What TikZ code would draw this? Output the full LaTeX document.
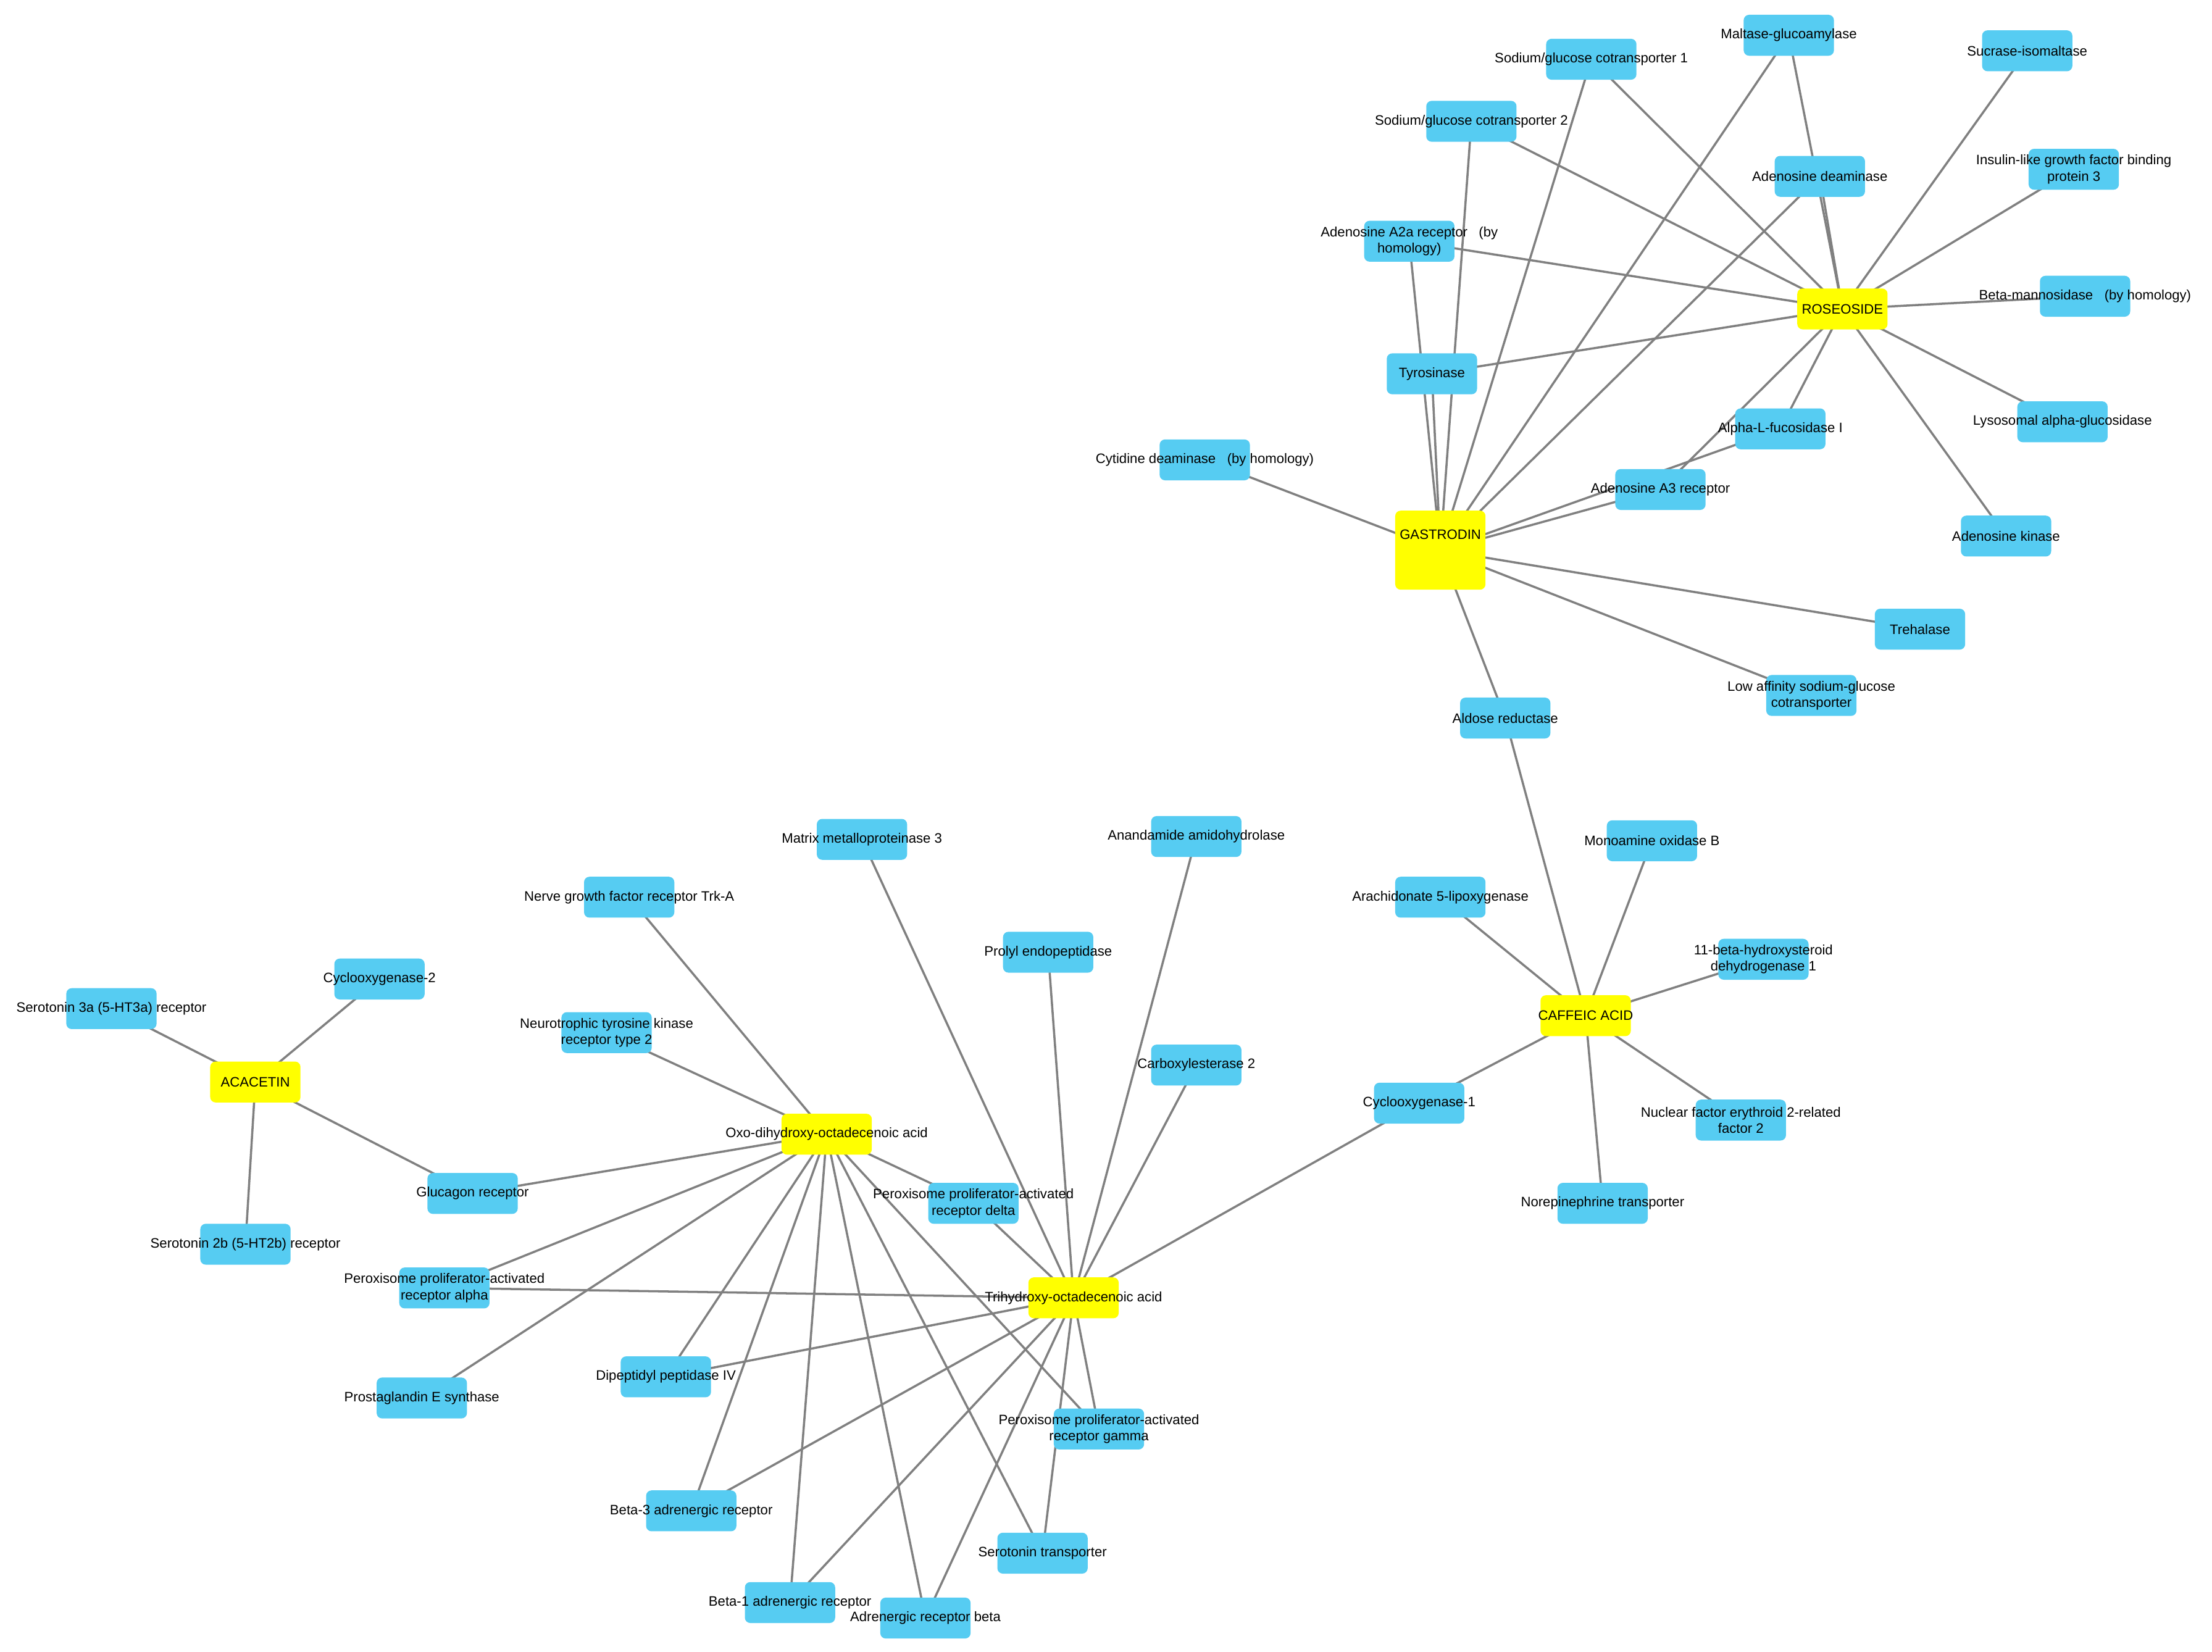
\documentclass[tikz,border=0pt]{standalone}
\usepackage{fontspec}
\setmainfont{Liberation Sans}
\pgfdeclarelayer{bg}
\pgfsetlayers{bg,main}
\definecolor{nblue}{RGB}{86,204,242}
\definecolor{nyel}{RGB}{255,255,0}
\definecolor{egray}{RGB}{128,128,128}
\tikzset{
  bbox/.style={draw=none,fill=nblue,rounded corners=2.5pt,minimum width=64*0.02285cm,minimum height=29*0.02285cm,inner sep=0pt},
  ybox/.style={bbox,fill=nyel},
  lbl/.style={font=\fontsize{6.3}{7.5}\selectfont,align=center,inner sep=0pt,text=black},
  edge/.style={draw=egray,line width=1pt}
}
\newcommand\bn[4]{\node[bbox,label={[lbl]center:#4}] (#1) at (#2,#3) {};}
\newcommand\yn[4]{\node[ybox,label={[lbl]center:#4}] (#1) at (#2,#3) {};}
\begin{document}
\begin{tikzpicture}[x=0.02285cm,y=-0.02285cm]
\path[use as bounding box] (0,0) rectangle (1568,1171);
% hubs
\node[ybox,minimum height=56*0.02285cm,label={[lbl,yshift=0.25cm]center:GASTRODIN}] (g) at (1021,390) {};
\yn{r}{1306}{219}{ROSEOSIDE}
\yn{ac}{181}{767}{ACACETIN}
\yn{o}{586}{804}{Oxo-dihydroxy-octadecenoic acid}
\yn{t}{761}{920}{Trihydroxy-octadecenoic acid}
\yn{c}{1124}{720}{CAFFEIC ACID}
% targets
\bn{sglt1}{1128}{42}{Sodium/glucose cotransporter 1}
\bn{mga}{1268}{25}{Maltase-glucoamylase}
\bn{si}{1437}{36}{Sucrase-isomaltase}
\bn{sglt2}{1043}{86}{Sodium/glucose cotransporter 2}
\bn{ada}{1290}{125}{Adenosine deaminase}
\bn{igfbp3}{1470}{120}{Insulin-like growth factor binding\\protein 3}
\bn{a2a}{999}{171}{Adenosine A2a receptor \ \ (by\\homology)}
\bn{bman}{1478}{210}{Beta-mannosidase \ \ (by homology)}
\bn{tyr}{1015}{265}{Tyrosinase}
\bn{alfuc}{1262}{304}{Alpha-L-fucosidase I}
\bn{lag}{1462}{299}{Lysosomal alpha-glucosidase}
\bn{cda}{854}{326}{Cytidine deaminase \ \ (by homology)}
\bn{a3}{1177}{347}{Adenosine A3 receptor}
\bn{adk}{1422}{380}{Adenosine kinase}
\bn{treh}{1361}{446}{Trehalase}
\bn{lasg}{1284}{493}{Low affinity sodium-glucose\\cotransporter}
\bn{ar}{1067}{509}{Aldose reductase}
\bn{mao}{1171}{596}{Monoamine oxidase B}
\bn{alox5}{1021}{636}{Arachidonate 5-lipoxygenase}
\bn{hsd}{1250}{680}{11-beta-hydroxysteroid\\dehydrogenase 1}
\bn{cox1}{1006}{782}{Cyclooxygenase-1}
\bn{nrf2}{1234}{794}{Nuclear factor erythroid 2-related\\factor 2}
\bn{net}{1136}{853}{Norepinephrine transporter}
\bn{mmp3}{611}{595}{Matrix metalloproteinase 3}
\bn{faah}{848}{593}{Anandamide amidohydrolase}
\bn{trka}{446}{636}{Nerve growth factor receptor Trk-A}
\bn{pep}{743}{675}{Prolyl endopeptidase}
\bn{cox2}{269}{694}{Cyclooxygenase-2}
\bn{htta}{79}{715}{Serotonin 3a (5-HT3a) receptor}
\bn{ntrk}{430}{732}{Neurotrophic tyrosine kinase\\receptor type 2}
\bn{ces}{848}{755}{Carboxylesterase 2}
\bn{gcgr}{335}{846}{Glucagon receptor}
\bn{ppard}{690}{853}{Peroxisome proliferator-activated\\receptor delta}
\bn{httb}{174}{882}{Serotonin 2b (5-HT2b) receptor}
\bn{ppara}{315}{913}{Peroxisome proliferator-activated\\receptor alpha}
\bn{dpp}{472}{976}{Dipeptidyl peptidase IV}
\bn{pges}{299}{991}{Prostaglandin E synthase}
\bn{pparg}{779}{1013}{Peroxisome proliferator-activated\\receptor gamma}
\bn{bthree}{490}{1071}{Beta-3 adrenergic receptor}
\bn{sert}{739}{1101}{Serotonin transporter}
\bn{bone}{560}{1136}{Beta-1 adrenergic receptor}
\bn{adrb}{656}{1147}{Adrenergic receptor beta}
\begin{pgfonlayer}{bg}
\fill[white] (0,0) rectangle (1568,1171);
\foreach \x in {sglt1,mga,sglt2,ada,a2a,tyr,cda,a3,alfuc,treh,lasg,ar}
  \draw[edge] (g.center) -- (\x.center);
\foreach \x in {sglt1,mga,si,sglt2,ada,igfbp3,a2a,bman,tyr,alfuc,lag,adk,a3}
  \draw[edge] (r.center) -- (\x.center);
\foreach \x in {ar,mao,alox5,hsd,cox1,nrf2,net}
  \draw[edge] (c.center) -- (\x.center);
\foreach \x in {htta,cox2,gcgr,httb}
  \draw[edge] (ac.center) -- (\x.center);
\foreach \x in {trka,ntrk,gcgr,ppard,ppara,pges,dpp,bthree,bone,adrb,sert,pparg}
  \draw[edge] (o.center) -- (\x.center);
\foreach \x in {mmp3,pep,faah,ces,ppard,ppara,dpp,pparg,bthree,bone,adrb,sert,cox1}
  \draw[edge] (t.center) -- (\x.center);
\end{pgfonlayer}
\end{tikzpicture}
\end{document}
